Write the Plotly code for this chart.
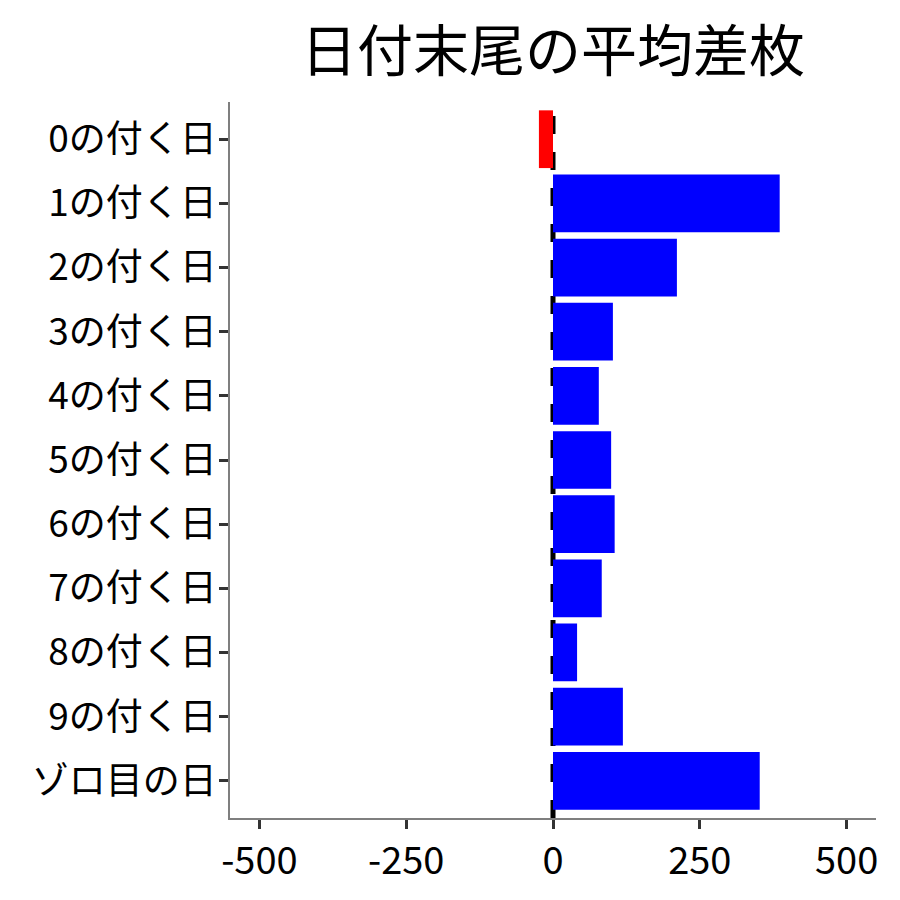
import plotly.graph_objects as go

# ===============================
# DATA
# ===============================
CATEGORIES = ["0の付く日", "1の付く日", "2の付く日", "3の付く日", "4の付く日",
              "5の付く日", "6の付く日", "7の付く日", "8の付く日", "9の付く日",
              "ゾロ目の日"]
VALUES = [-24, 386, 211, 102, 78, 99, 105, 83, 41, 119, 352]
X_TICKS = [-500, -250, 0, 250, 500]

FONT = "Noto Sans CJK JP"

colors = ["red" if v < 0 else "blue" for v in VALUES]

fig = go.Figure()

fig.add_trace(go.Bar(
    x=VALUES,
    y=CATEGORIES,
    orientation="h",
    marker=dict(color=colors, line=dict(width=0)),
    width=0.9,
    showlegend=False,
))

# zero reference line (drawn under the bars)
fig.add_vline(x=0, line=dict(color="black", width=5, dash="18px,18px"), layer="below")

fig.update_layout(
    width=900,
    height=900,
    paper_bgcolor="white",
    plot_bgcolor="white",
    font=dict(family=FONT, color="black"),
    title=dict(
        text="日付末尾の平均差枚",
        x=0.5, xref="paper", xanchor="center",
        y=0.952, yref="container", yanchor="middle",
        font=dict(size=56, family=FONT, color="black"),
    ),
    margin=dict(l=222, r=32, t=94, b=90),
    xaxis=dict(
        range=[-550, 550],
        tickvals=X_TICKS,
        ticktext=[str(t) for t in X_TICKS],
        showgrid=False,
        zeroline=False,
        showline=True,
        linecolor="#7f7f7f",
        linewidth=1.5,
        ticks="outside",
        ticklen=9,
        tickwidth=2.5,
        tickcolor="#333333",
        tickfont=dict(size=38, family=FONT, color="black"),
    ),
    yaxis=dict(
        categoryorder="array",
        categoryarray=CATEGORIES,
        autorange=False,
        range=[10.58, -0.58],
        showgrid=False,
        zeroline=False,
        showline=True,
        linecolor="#7f7f7f",
        linewidth=1.5,
        ticks="outside",
        ticklen=9,
        tickwidth=2.5,
        tickcolor="#333333",
        ticklabelstandoff=-5,
        tickfont=dict(size=37, family=FONT, color="black"),
    ),
    bargap=0.1,
)

fig.write_html("out.html")
